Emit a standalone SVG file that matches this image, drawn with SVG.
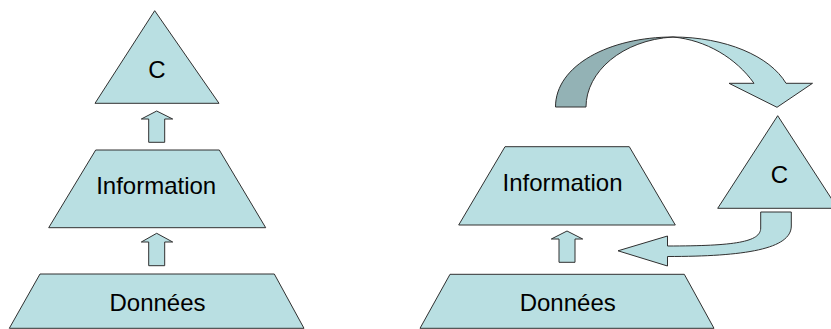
<svg xmlns="http://www.w3.org/2000/svg" width="831" height="329" viewBox="0 0 831 329">
<style>
.s{fill:#B9DFE2;stroke:#303030;stroke-width:1;stroke-linejoin:miter}
.d{fill:#93B2B5;stroke:#303030;stroke-width:1}
.t{font-family:"Liberation Sans",Arial,sans-serif;font-size:24px;fill:#000;text-anchor:middle}
</style>
<rect width="831" height="329" fill="#fff"/>
<g id="left-c">
<polygon class="s" points="154.7,10.7 95,103.3 219,103.3"/>
<text class="t" x="157" y="77.5">C</text>
</g>
<g id="left-information">
<polygon class="s" points="95.7,150 219.3,150 265.7,227.7 48.7,227.7"/>
<text class="t" x="156.2" y="194.3">Information</text>
</g>
<g id="left-donnees">
<polygon class="s" points="40,274 274.3,274 304,328.3 9.3,328.3"/>
<text class="t" x="157.5" y="310.7">Données</text>
</g>
<g id="right-c">
<polygon class="s" points="777.7,115.7 717.7,208.3 837.7,208.3"/>
<text class="t" x="779.3" y="182.5">C</text>
</g>
<g id="right-information">
<polygon class="s" points="505,146.7 629.3,146.7 675.3,225 458.7,225"/>
<text class="t" x="562.5" y="191">Information</text>
</g>
<g id="right-donnees">
<polygon class="s" points="450,274.3 684.3,274.3 714,328.3 420,328.3"/>
<text class="t" x="567.7" y="310.7">Données</text>
</g>
<g id="connectors">
<polygon class="s" points="156.7,111 172.7,119 164.7,119 164.7,142.3 148.7,142.3 148.7,119 141.3,119"/>
<polygon class="s" points="156.7,233.3 172.7,242 164.7,242 164.7,265.7 148.7,265.7 148.7,242 141.3,242"/>
<polygon class="s" points="567,231 582.7,239 575,239 575,262.3 559,262.3 559,239 551.3,239"/>
<path class="d" d="M555.5,107 L586,107 C586,72 622,40 673,37 C610,37 555.5,65 555.5,107 Z"/>
<path class="s" d="M673,37 C725,37 770,56 786,83.3 L812.5,83.3 L777,107.3 L729,83.3 L754,83.3 C736,58 706,40 673,37 Z"/>
<path class="s" d="M760.7,212 L791.3,212 L791.3,226 C791.3,249 745,256.5 667.5,256.5 L667.5,266 L618,250.8 L667.5,236 L667.5,246 C735,246 760.7,242 760.7,228 Z"/>
</g>
</svg>
